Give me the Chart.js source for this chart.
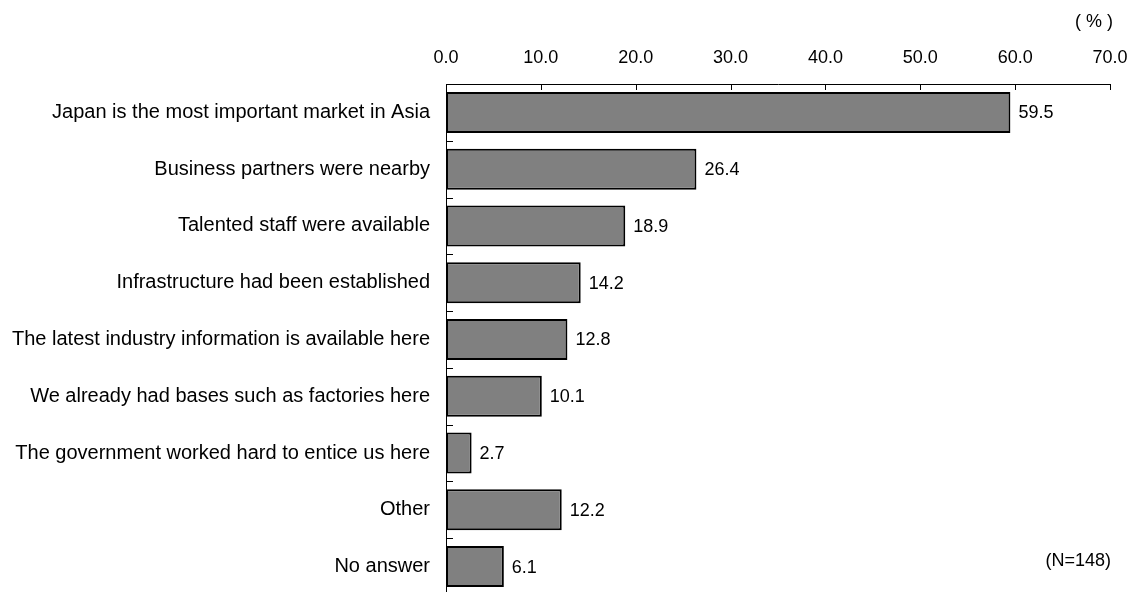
<!DOCTYPE html>
<html>
<head>
<meta charset="utf-8">
<script src="https://cdn.jsdelivr.net/npm/chart.js@4/dist/chart.umd.min.js"></script>
<style>
  html, body { margin: 0; padding: 0; background: #fff; overflow: hidden; }
  #wrap { width: 1136px; height: 596px; }
</style>
</head>
<body>
<div id="wrap"><canvas id="c" width="1136" height="596"></canvas></div>
<script>
// Reasons for choosing the location (%), N=148
const categories = [
  'Japan is the most important market in Asia',
  'Business partners were nearby',
  'Talented staff were available',
  'Infrastructure had been established',
  'The latest industry information is available here',
  'We already had bases such as factories here',
  'The government worked hard to entice us here',
  'Other',
  'No answer'
];
const shares = [59.5, 26.4, 18.9, 14.2, 12.8, 10.1, 2.7, 12.2, 6.1];
const axisMin = 0;
const axisMax = 70;
const axisStep = 10;
const unitLabel = '( % )';
const sampleNote = '(N=148)';

const FONT = '"Liberation Sans", Arial, sans-serif';

// Small inward tick marks on both axes, value labels and notes
const decorations = {
  id: 'decorations',
  afterDatasetsDraw(chart) {
    const ctx = chart.ctx;
    const xs = chart.scales.x;
    const ys = chart.scales.y;
    const area = chart.chartArea;
    ctx.save();
    ctx.strokeStyle = '#000';
    ctx.lineWidth = 1;
    // value-axis ticks hanging down from the top axis
    for (let v = axisMin; v <= axisMax; v += axisStep) {
      const px = Math.round(xs.getPixelForValue(v)) + 0.5;
      ctx.beginPath();
      ctx.moveTo(px, area.top);
      ctx.lineTo(px, area.top + 6);
      ctx.stroke();
    }
    // category boundary ticks pointing into the plot
    const band = ys.getPixelForValue(1) - ys.getPixelForValue(0);
    for (let i = 0; i <= categories.length; i++) {
      const py = Math.round(ys.getPixelForValue(i) - band / 2) + 0.5;
      ctx.beginPath();
      ctx.moveTo(area.left, py);
      ctx.lineTo(area.left + 7, py);
      ctx.stroke();
    }
    // value labels at the bar ends
    const meta = chart.getDatasetMeta(0);
    ctx.fillStyle = '#000';
    ctx.font = '18px ' + FONT;
    ctx.textAlign = 'left';
    ctx.textBaseline = 'middle';
    meta.data.forEach((bar, i) => {
      ctx.fillText(shares[i].toFixed(1), bar.x + 8, bar.y + 1);
    });
    // unit and sample size notes
    ctx.textAlign = 'right';
    ctx.fillText(sampleNote, 1111, 561);
    ctx.fillText(unitLabel, 1113, 22);
    ctx.restore();
  }
};

new Chart(document.getElementById('c'), {
  type: 'bar',
  data: {
    labels: categories,
    datasets: [{
      data: shares,
      backgroundColor: '#808080',
      borderColor: '#000',
      borderWidth: 2,
      borderSkipped: false,
      barPercentage: 0.722,
      categoryPercentage: 1
    }]
  },
  options: {
    indexAxis: 'y',
    responsive: false,
    animation: false,
    devicePixelRatio: 1,
    layout: { padding: { top: 0, right: 26, bottom: 1, left: 0 } },
    plugins: { legend: { display: false }, tooltip: { enabled: false } },
    scales: {
      x: {
        position: 'top',
        min: axisMin,
        max: axisMax,
        ticks: {
          stepSize: axisStep,
          color: '#000',
          font: { size: 18, family: FONT },
          padding: 7,
          callback: v => Number(v).toFixed(1)
        },
        grid: { display: false },
        border: { display: true, color: '#000', width: 1 },
        afterFit: s => { s.height = 84; s.paddingLeft = 0; s.paddingRight = 0; }
      },
      y: {
        ticks: {
          color: '#000',
          font: { size: 20, family: FONT },
          padding: 8
        },
        grid: { display: false },
        border: { display: true, color: '#000', width: 1 },
        afterFit: s => { s.width = 446; s.paddingTop = 0; s.paddingBottom = 0; }
      }
    }
  },
  plugins: [decorations]
});
</script>
</body>
</html>
